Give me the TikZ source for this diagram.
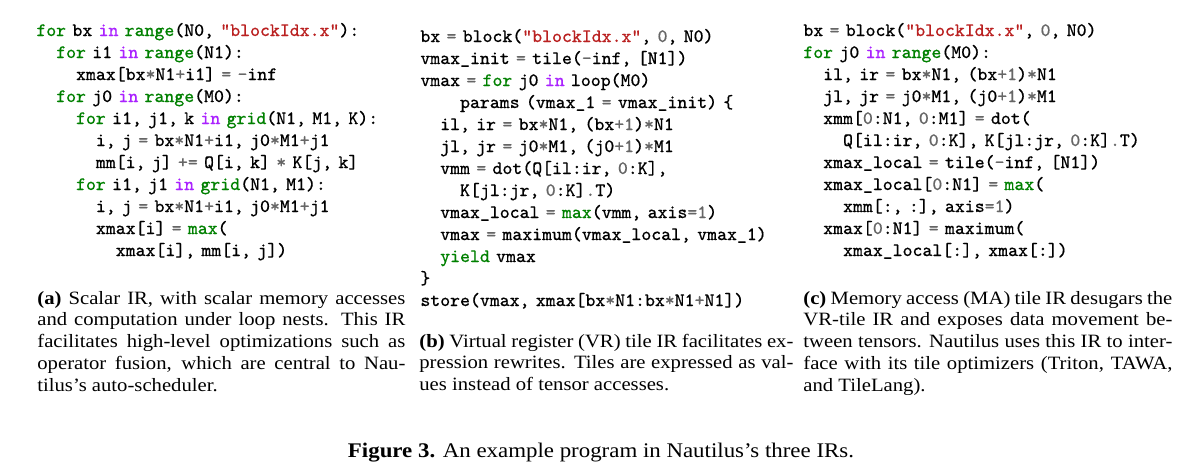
\documentclass[tikz,border=0pt]{standalone}
\usepackage{fontspec}
\setmainfont{Liberation Serif}[FakeStretch=1.1]
\setmonofont{Latin Modern Mono}[FakeBold=0.4]
\usepackage{xcolor}
\usetikzlibrary{positioning}

\definecolor{kwgreen}{HTML}{008000}
\definecolor{kwpurple}{HTML}{AA22FF}
\definecolor{strred}{HTML}{BA2121}
\definecolor{opgrey}{HTML}{666666}

\newcommand{\ckw}[1]{\textcolor{kwgreen}{#1}}
\newcommand{\cin}[1]{\textcolor{kwpurple}{#1}}
\newcommand{\cbi}[1]{\textcolor{kwgreen}{#1}}
\newcommand{\cstr}[1]{\textcolor{strred}{#1}}
\newcommand{\cop}[1]{\textcolor{opgrey}{#1}}
\newcommand{\cnum}[1]{\textcolor{opgrey}{#1}}
\newcommand{\ind}[1]{\hspace*{#1\fontcharwd\font`x}}
\newcommand{\codefont}{\ttfamily\fontsize{9.45}{11}\selectfont}
\newcommand{\capfont}{\fontsize{9.4}{10.875}\selectfont}

\tikzset{
  code/.style={anchor=base west, inner sep=0pt, text width=192pt, align=left, font=\codefont},
  subcap/.style={anchor=base west, inner sep=0pt, align=justify, font=\capfont},
}

\begin{document}
\begin{tikzpicture}[x=0.5pt, y=-0.5pt]
  \useasboundingbox (0,0) rectangle (1200,472);
  \node[code] (codeA) at (36,36) {\ckw{for} bx \cin{in} \cbi{range}(N0, \cstr{"blockIdx.x"}):\\
    \ind{2}\ckw{for} i1 \cin{in} \cbi{range}(N1):\\
    \ind{4}xmax[bx\cop{*}N1\cop{+}i1] \cop{=} \cop{-}inf\\
    \ind{2}\ckw{for} j0 \cin{in} \cbi{range}(M0):\\
    \ind{4}\ckw{for} i1, j1, k \cin{in} \cbi{grid}(N1, M1, K):\\
    \ind{6}i, j \cop{=} bx\cop{*}N1\cop{+}i1, j0\cop{*}M1\cop{+}j1\\
    \ind{6}mm[i, j] \cop{+=} Q[i, k] \cop{*} K[j, k]\\
    \ind{4}\ckw{for} i1, j1 \cin{in} \cbi{grid}(N1, M1):\\
    \ind{6}i, j \cop{=} bx\cop{*}N1\cop{+}i1, j0\cop{*}M1\cop{+}j1\\
    \ind{6}xmax[i] \cop{=} \cbi{max}(\\
    \ind{8}xmax[i], mm[i, j])};
  \node[code] (codeB) at (420,42) {bx \cop{=} block(\cstr{"blockIdx.x"}, \cnum{0}, N0)\\
    vmax\_init \cop{=} tile(\cop{-}inf, [N1])\\
    vmax \cop{=} \ckw{for} j0 \cin{in} loop(M0)\\
    \ind{4}params (vmax\_1 \cop{=} vmax\_init) \{\\
    \ind{2}il, ir \cop{=} bx\cop{*}N1, (bx\cop{+}\cnum{1})\cop{*}N1\\
    \ind{2}jl, jr \cop{=} j0\cop{*}M1, (j0\cop{+}\cnum{1})\cop{*}M1\\
    \ind{2}vmm \cop{=} dot(Q[il:ir, \cnum{0}:K],\\
    \ind{4}K[jl:jr, \cnum{0}:K]\cop{.}T)\\
    \ind{2}vmax\_local \cop{=} \cbi{max}(vmm, axis\cop{=}\cnum{1})\\
    \ind{2}vmax \cop{=} maximum(vmax\_local, vmax\_1)\\
    \ind{2}\ckw{yield} vmax\\
    \}\\
    store(vmax, xmax[bx\cop{*}N1:bx\cop{*}N1\cop{+}N1])};
  \node[code] (codeC) at (803,36) {bx \cop{=} block(\cstr{"blockIdx.x"}, \cnum{0}, N0)\\
    \ckw{for} j0 \cin{in} \cbi{range}(M0):\\
    \ind{2}il, ir \cop{=} bx\cop{*}N1, (bx\cop{+}\cnum{1})\cop{*}N1\\
    \ind{2}jl, jr \cop{=} j0\cop{*}M1, (j0\cop{+}\cnum{1})\cop{*}M1\\
    \ind{2}xmm[\cnum{0}:N1, \cnum{0}:M1] \cop{=} dot(\\
    \ind{4}Q[il:ir, \cnum{0}:K], K[jl:jr, \cnum{0}:K]\cop{.}T)\\
    \ind{2}xmax\_local \cop{=} tile(\cop{-}inf, [N1])\\
    \ind{2}xmax\_local[\cnum{0}:N1] \cop{=} \cbi{max}(\\
    \ind{4}xmm[:, :], axis\cop{=}\cnum{1})\\
    \ind{2}xmax[\cnum{0}:N1] \cop{=} maximum(\\
    \ind{4}xmax\_local[:], xmax[:])};
  \node[subcap, text width=184pt] (capA) at (37,304) {\textbf{(a)} Scalar IR, with scalar memory accesses\linebreak
    and computation under loop nests. This IR\linebreak
    facilitates high-level optimizations such as\linebreak
    operator fusion, which are central to Nau-\linebreak
    tilus’s auto-scheduler.};
  \node[subcap, text width=187pt] (capB) at (419,347) {\textbf{(b)} Virtual register (VR) tile IR facilitates ex-\linebreak
    pression rewrites. Tiles are expressed as val-\linebreak
    ues instead of tensor accesses.};
  \node[subcap, text width=184.5pt] (capC) at (803,304) {\textbf{(c)} Memory access (MA) tile IR desugars the\linebreak
    VR-tile IR and exposes data movement be-\linebreak
    tween tensors. Nautilus uses this IR to inter-\linebreak
    face with its tile optimizers (Triton, TAWA,\linebreak
    and TileLang).};
  \node[anchor=base, inner sep=0pt, font=\fontsize{10.4}{12}\selectfont] (fig) at (601,457)
    {\textbf{Figure 3.} An example program in Nautilus’s three IRs.};
\end{tikzpicture}
\end{document}
